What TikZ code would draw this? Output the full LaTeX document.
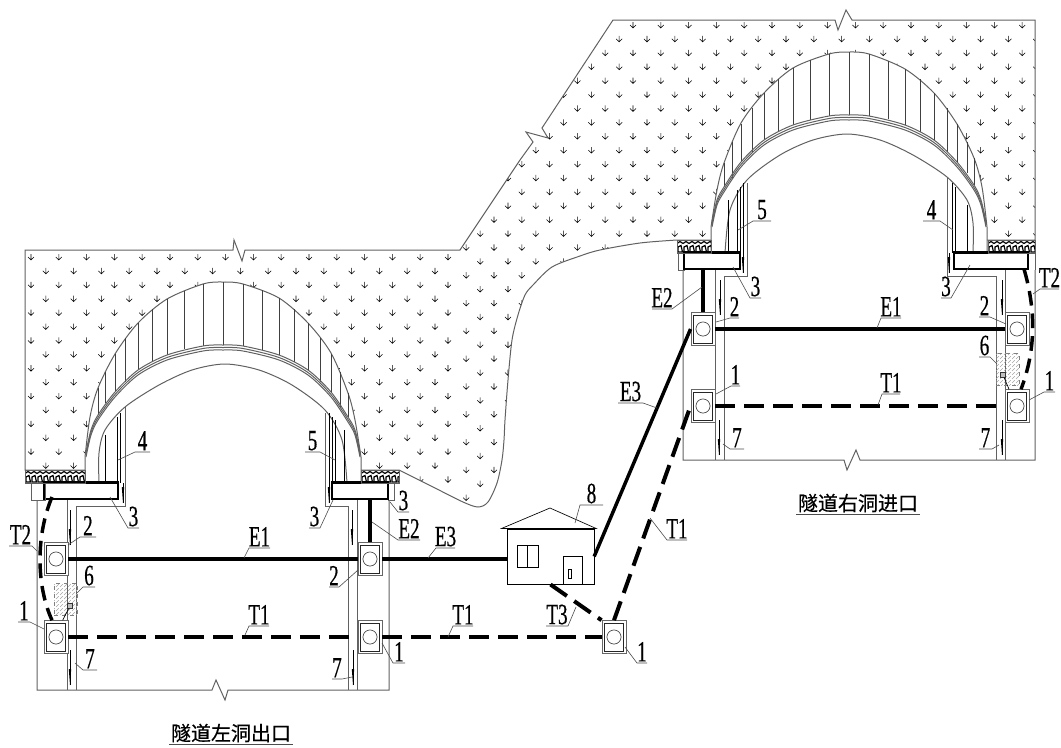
\documentclass[tikz,border=0pt]{standalone}
\usepackage{fontspec}
\usetikzlibrary{calc,patterns}
\newfontfamily\labfont[FakeStretch=0.65,FakeBold=0.5]{Liberation Serif}
\newfontfamily\cjk[FakeBold=0.5]{Noto Sans CJK SC}

\tikzset{
  wall/.style={draw=black!62, line width=0.75pt},
  thinline/.style={draw=black, line width=0.5pt},
  rib/.style={draw=black!75, line width=0.7pt},
  beam/.style={draw=black, line width=1.2pt, fill=white, minimum height=12pt, inner sep=0pt},
  well/.style={draw=black!60, fill=white, line width=0.7pt,
    minimum width=18pt, minimum height=24.5pt, inner sep=0pt,
    path picture={
      \draw[black!85, line width=0.6pt] ([xshift=1.7pt,yshift=1.7pt]path picture bounding box.south west)
        rectangle ([xshift=-1.7pt,yshift=-1.7pt]path picture bounding box.north east);
      \draw[black!75, line width=0.5pt] (path picture bounding box.center) circle (5.3pt);}},
  powerline/.style={draw=black, line width=2.6pt},
  earthline/.style={draw=black, line width=3pt, dash pattern=on 15pt off 6.7pt},
  earthcurve/.style={draw=black, line width=2.6pt, dash pattern=on 11pt off 6pt},
  leader/.style={draw=black!70, line width=0.45pt},
  lab/.style={anchor=south, inner sep=1pt, font=\labfont\fontsize{22}{22}\selectfont},
  title/.style={inner sep=1pt, font=\cjk\fontsize{15}{15}\selectfont},
  testbox/.style={draw=black!50, dashed, line width=0.5pt, pattern=north east lines,
    pattern color=black!35, minimum width=17pt, minimum height=24pt, inner sep=0pt},
  smallbox/.style={draw=black!80, line width=0.5pt, fill=black!25, minimum size=3.5pt, inner sep=0pt},
  hatcharrow/.style={draw=black, line width=0.4pt},
}

% label with a bent leader: name, text, tip, near end, far end
\newcommand{\callout}[5]{%
  \coordinate (#1t) at (#3);
  \coordinate (#1a) at (#4);
  \coordinate (#1b) at (#5);
  \node[lab] (#1) at ($(#1a)!.5!(#1b)$) {#2};
  \draw[leader] (#1t) -- (#1a) -- (#1b);
}
% drainage tick on a wall
\newcommand{\walltick}[3]{%
  \draw[thinline] (#1,#2) -- (#1,#3);
  \fill[black] ({#1-1.2},{#3-16}) -- ({#1+1.2},{#3-16}) -- (#1,#3) -- cycle;
}
% field of small arrows
\newcommand{\arrowfield}[2]{%
  \foreach \yy in {#2} \foreach \xx in {#1}
    \draw[hatcharrow] (\xx,\yy-3) -- (\xx,\yy+3) (\xx-3,\yy) -- (\xx,\yy+3) -- (\xx+3,\yy);
}
% rubble strip
\newcommand{\rubble}[3]{%
  \begin{scope}
    \clip (#1,#3) rectangle (#2,#3+13);
    \pgfmathtruncatemacro\rn{(#2-#1)/6}
    \foreach \rk in {0,...,\rn} {
      \draw[black, line width=0.9pt] ({#1+6*\rk},#3+3.5) -- ({#1+6*\rk+3},#3+1.5) -- ({#1+6*\rk+6},#3+3.5)
        ({#1+6*\rk+1},#3+7) -- ({#1+6*\rk+4},#3+5.5) -- ({#1+6*\rk+5.5},#3+12) -- ({#1+6*\rk+1},#3+12) -- cycle;
    }
  \end{scope}
  \draw[wall] (#1,#3) rectangle (#2,#3+13);
}
% one tunnel portal, drawn in the coordinates of the right one
\newcommand{\portal}[1]{%
  \fill[white] plot[smooth] coordinates {(711,227) (717,190) (724,163) (741,123) (764,93) (793,68) (829,54) (849,52)
    (869,54) (905,69) (934,93) (957,124) (974,158) (982,187) (987,227)} -- (987,253) -- (711,253) -- cycle;
  \draw[wall] (711,253) -- plot[smooth] coordinates {(711,227) (717,190) (724,163) (741,123) (764,93) (793,68) (829,54) (849,52)
    (869,54) (905,69) (934,93) (957,124) (974,158) (982,187) (987,227)} -- (987,253);
  \foreach \rx/\rt/\rb in {724/163/187,732/142/178,741/124/162,752/108/152,764/93/140,778/79/132,793/68/125,810/60/120,
    829/54/116,849/52/115,869/54/116,888/61/119,905/69/125,920/79/132,934/93/140,947/108/152,957/124/162,967/142/173,974/158/185}
    \draw[rib] (\rx,\rt) -- (\rx,\rb);
  \foreach \dy in {0,2.5,5}
    \draw[wall, shift={(0,\dy)}] plot[smooth] coordinates {(712,222) (717,200) (724,187) (741,162) (764,140) (793,125) (829,116) (849,115)
      (869,116) (905,125) (934,140) (957,162) (974,185) (981,200) (986,222)};
  \draw[wall] plot[smooth] coordinates {(725,253) (730,210) (747,180) (780,155) (813,140) (847,134) (880,140)
    (913,155) (947,177) (967,200) (973,223) (973,253)};
  \foreach \vx/\vt in {728/200,737/190,740/187,743/183,952/183,955/187,967/205}
    \draw[thinline] (\vx,\vt) -- (\vx,253);
  \draw[wall] (683,270) -- (683,460) -- (844,460) -- (847,470) -- (856,450) -- (860,460) -- (1035,460) -- (1035,270);
  \draw[wall] (715,269) -- (715,460);
  \draw[wall] (724,460) -- (724,276) -- (747,276) -- (747,183);
  \draw[wall] (996,460) -- (996,276) -- (947,276) -- (947,177);
  \draw[wall] (1005,269) -- (1005,460);
  \draw[wall] (678,253) rectangle (684,270);
  \node[beam, minimum width=42pt] (#1small) at (712,261) {};
  \node[beam, minimum width=55.5pt] (#1big) at (991,261) {};
  \draw[black, line width=2.2pt] (#1small.north west) -- (#1small.north east);
  \draw[black, line width=2.2pt] (#1big.north west) -- (#1big.north east);
  \walltick{720}{280}{315}
  \walltick{719}{420}{455}
  \walltick{1002}{280}{315}
  \walltick{1002}{420}{455}
  \walltick{743}{253}{273}
  \walltick{949}{253}{273}
}

\begin{document}
\begin{tikzpicture}[x=0.75pt, y=-0.75pt]
    \useasboundingbox (0,0) rectangle (1061,747);

    % ground
    \def\groundpath{(25,470) -- (25,250) -- (233,250) -- (234,240) -- (242,261) -- (245,250) -- (460,250)
      -- (520,160) -- (533,142) -- (526,132) -- (548,138) -- (542,128) -- (613,20) -- (835,20) -- (838,30)
      -- (846,10) -- (852,20) -- (1035,20) -- (1035,240) -- (677,240)
      -- plot[smooth] coordinates {(677,240) (640,243) (600,250) (580,256) (552,267) (533,285) (525,295) (518,315)
        (512,340) (508,380) (505,420) (504,440) (502,460) (497,483) (488,502) (478,507) (463,502) (433,487) (399,470)}
      -- cycle}
    \begin{scope}
      \clip \groundpath;
      \arrowfield{3.2,31,...,450}{257,284.8,...,480}
      \arrowfield{18,45.8,...,450}{270.9,298.7,...,480}
      \arrowfield{466.2,494,...,1040}{25,52.8,...,510}
      \arrowfield{480.2,508,...,1040}{38.9,66.7,...,510}
    \end{scope}
    \draw[wall] \groundpath;
    \draw[wall] (1035,240) -- (1035,270);

    % portals
    \portal{r}
    \begin{scope}[shift={(1072,230)}, xscale=-1]
      \portal{l}
    \end{scope}
    \draw[wall] (31,483) rectangle (45,500);
    \rubble{677}{711}{240}
    \rubble{988}{1035}{240}
    \rubble{25}{85}{470}
    \rubble{361}{399}{470}

    % wells
    \node[well] (lw2) at (56,559) {};
    \node[well] (lw1) at (56,637) {};
    \node[well] (mw2) at (370,559) {};
    \node[well] (mw1) at (370,637) {};
    \node[well] (ow1) at (614,637) {};
    \node[well] (rw2) at (703,329) {};
    \node[well] (rw1) at (703,406) {};
    \node[well] (sw2) at (1017,329) {};
    \node[well] (sw1) at (1017,406) {};

    % test boxes
    \node[testbox] (lq) at (65.5,599.5) {};
    \node[smallbox] (ls) at (70,606) {};
    \draw[thinline] (ls) -- ([xshift=5pt]lw1.north);
    \node[testbox] (sq) at (1007.5,369) {};
    \node[smallbox] (ss) at (1003,375) {};
    \draw[thinline] (ss) -- ([xshift=-6pt]sw1.north);

    % house
    \node[draw, thinline, minimum width=65pt, minimum height=41.5pt, inner sep=0pt] (house) at (550.5,556.5) {};
    \coordinate (peak) at (550,508);
    \draw[thinline] ([xshift=-4pt]house.north west) -- (peak) -- ([xshift=1.5pt]house.north east) -- cycle;
    \draw[thinline] (517,545) rectangle (538,567) (527.5,545) -- (527.5,567);
    \draw[thinline] (563,584) -- (563,556) -- (582,556) -- (582,584);
    \draw[thinline] (568,569) rectangle (571,578);

    % power lines
    \draw[powerline] (lw2.east) -- (mw2.west);
    \draw[powerline] (mw2.east) -- (mw2 -| house.west);
    \draw[powerline] (house.east) -- (rw2.west);
    \draw[powerline] (rw2.east) -- (sw2.west);
    \draw[powerline, line width=3pt] (mw2 |- lsmall.south) -- (mw2.north);
    \draw[powerline, line width=3pt] (rw2 |- rsmall.south) -- (rw2.north);

    % earth lines
    \draw[earthline] (lw1.east) -- (mw1.west);
    \draw[earthline] (mw1.east) -- (ow1.west);
    \draw[earthline] (rw1.east) -- (sw1.west);
    \draw[earthline] (ow1.north) -- (rw1.west);
    \draw[earthline] (house.south) -- (ow1.north west);
    \coordinate (lt2) at (52,497);
    \coordinate (st2) at (1024,269);
    \draw[earthcurve] (lt2) .. controls (36,535) and (36,585) .. ([xshift=-3pt]lw1.north);
    \draw[earthcurve] (st2) .. controls (1036,310) and (1036,350) .. ([xshift=3pt]sw1.north);

    % labels, left tunnel
    \callout{a1}{4}{118,460}{135,452}{150,452}
    \callout{a2}{3}{110,497}{128,528}{139,528}
    \callout{a3}{2}{68,545}{80,537}{96,537}
    \callout{a4}{T2}{37,551}{32,546}{9,546}
    \callout{a5}{6}{77,593}{83,587}{95,587}
    \callout{a6}{1}{44,629}{30,622}{18,622}
    \callout{a7}{7}{75,663}{83,670}{97,670}
    \callout{a8}{E1}{244,558}{249,548}{270,548}
    \callout{a9}{T1}{245,635}{249,626}{269,626}
    \callout{b1}{5}{335,460}{320,452}{305,452}
    \callout{b2}{3}{333,500}{320,528}{309,528}
    \callout{b3}{3}{390,502}{398,512}{409,512}
    \callout{b4}{E2}{372,522}{398,540}{420,540}
    \callout{b5}{E3}{428,558}{436,548}{455,548}
    \callout{b6}{2}{358,570}{339,587}{329,587}
    \callout{b7}{T1}{448,637}{453,626}{473,626}
    \callout{b8}{1}{382,643}{393,663}{405,663}
    \callout{b9}{7}{352,677}{342,679}{332,679}
    % labels, middle
    \callout{c1}{8}{575,523}{580,505}{603,505}
    \callout{c2}{T3}{576,607}{568,626}{546,626}
    \callout{c3}{1}{625,647}{637,663}{647,663}
    \callout{c4}{E3}{657,408}{643,403}{618,403}
    \callout{c5}{T1}{650,518}{667,540}{687,540}
    % labels, right tunnel
    \callout{d1}{5}{738,230}{753,221}{771,221}
    \callout{d2}{4}{953,230}{940,221}{923,221}
    \callout{d3}{E2}{702,287}{672,309}{652,309}
    \callout{d4}{3}{733,267}{750,298}{761,298}
    \callout{d5}{2}{716,322}{730,318}{739,318}
    \callout{d6}{1}{716,394}{731,386}{740,386}
    \callout{d7}{7}{723,444}{730,449}{744,449}
    \callout{d8}{E1}{877,328}{881,318}{901,318}
    \callout{d9}{T1}{878,405}{882,394}{900,394}
    \callout{e1}{3}{970,265}{951,298}{941,298}
    \callout{e2}{2}{1006,324}{990,317}{979,317}
    \callout{e3}{6}{997,364}{990,357}{979,357}
    \callout{e4}{7}{999,445}{992,449}{979,449}
    \callout{e5}{1}{1029,400}{1044,392}{1055,392}
    \callout{e6}{T2}{1033,294}{1040,289}{1059,289}

    % titles
    \node[title] (ltitle) at (231,733) {隧道左洞出口};
    \draw[leader] (ltitle.south west) -- (ltitle.south east);
    \node[title] (rtitle) at (858,503) {隧道右洞进口};
    \draw[leader] (rtitle.south west) -- (rtitle.south east);
\end{tikzpicture}
\end{document}
